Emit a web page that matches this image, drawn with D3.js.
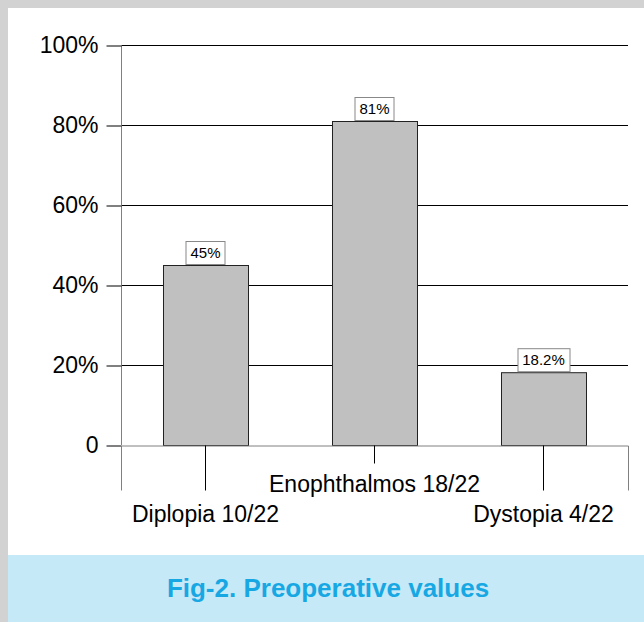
<!DOCTYPE html>
<html>
<head>
<meta charset="utf-8">
<script src="https://cdn.jsdelivr.net/npm/d3@7"></script>
<style>
  body { margin: 0; background: #fff; }
  text { font-family: "Liberation Sans", Arial, sans-serif; }
</style>
</head>
<body>
<div id="chart"></div>
<script>
var categories = ["Diplopia 10/22", "Enophthalmos 18/22", "Dystopia 4/22"];
var values = [45, 81, 18.2];
var valueLabels = ["45%", "81%", "18.2%"];
var yTicks = [0, 20, 40, 60, 80, 100];
var caption = "Fig-2. Preoperative values";

var svgWidth = 644;
var svgHeight = 622;

var svg = d3.select("#chart")
  .append("svg")
  .attr("width", svgWidth)
  .attr("height", svgHeight);

// frame
svg.append("rect").attr("x", 0).attr("y", 0).attr("width", svgWidth).attr("height", 8).attr("fill", "#d2d2d2");
svg.append("rect").attr("x", 0).attr("y", 0).attr("width", 8).attr("height", svgHeight).attr("fill", "#d2d2d2");
svg.append("rect").attr("x", 8).attr("y", 555).attr("width", svgWidth - 8).attr("height", svgHeight - 555).attr("fill", "#c6e9f8");
svg.append("text")
  .attr("x", 328)
  .attr("y", 597)
  .attr("text-anchor", "middle")
  .attr("font-size", "26px")
  .attr("font-weight", "bold")
  .attr("fill", "#17a8e4")
  .text(caption);

var x = d3.scaleBand()
  .domain(categories)
  .range([121, 628])
  .paddingInner(0.497)
  .paddingOuter(0.2485);

var y = d3.scaleLinear()
  .domain([0, 100])
  .range([445, 45]);

// gridlines
svg.append("g")
  .selectAll("line")
  .data(yTicks.filter(d => d > 0))
  .enter()
  .append("line")
  .attr("x1", 121)
  .attr("x2", 628)
  .attr("y1", d => y(d) + 0.5)
  .attr("y2", d => y(d) + 0.5)
  .attr("stroke", "#000");

// y axis
var leftAxis = d3.axisLeft(y)
  .tickValues(yTicks)
  .tickSize(15)
  .tickPadding(8)
  .tickFormat(d => d === 0 ? "0" : d + "%");

var yAxis = svg.append("g")
  .attr("transform", "translate(121.5, 0.5)")
  .call(leftAxis);
yAxis.select(".domain").attr("stroke", "#808080").attr("d", `M0,${y(100) - 0.5}V${y(0) - 0.5}`);
yAxis.selectAll(".tick line").attr("stroke", "#000");
yAxis.selectAll(".tick text")
  .attr("font-size", "23px")
  .attr("font-family", "'Liberation Sans', Arial, sans-serif")
  .attr("fill", "#000");

// bars
svg.append("g")
  .selectAll("rect")
  .data(values)
  .enter()
  .append("rect")
  .attr("x", (d, i) => x(categories[i]) + 0.5)
  .attr("y", d => y(d) + 0.5)
  .attr("width", x.bandwidth())
  .attr("height", d => y(0) - y(d))
  .attr("fill", "#c0c0c0")
  .attr("stroke", "#222");

// x axis
var bottomAxis = d3.axisBottom(x).tickSizeOuter(0).tickSize(45).tickPadding(0);
var xAxis = svg.append("g")
  .attr("transform", "translate(0, 445.5)")
  .call(bottomAxis);
xAxis.select(".domain").attr("stroke", "#808080");
xAxis.selectAll(".tick line")
  .attr("stroke", "#000")
  .attr("y2", (d, i) => i === 1 ? 18 : 45);
xAxis.selectAll(".tick text")
  .attr("font-size", "23px")
  .attr("font-family", "'Liberation Sans', Arial, sans-serif")
  .attr("fill", "#000")
  .attr("dy", null)
  .attr("y", (d, i) => i === 1 ? 46 : 76);

// value labels
var lab = svg.append("g")
  .selectAll("g")
  .data(values)
  .enter()
  .append("g")
  .attr("transform", (d, i) => `translate(${x(categories[i]) + x.bandwidth() / 2}, ${y(d) - 1})`);

lab.append("text")
  .attr("text-anchor", "middle")
  .attr("y", -6)
  .attr("font-size", "15px")
  .attr("fill", "#000")
  .text((d, i) => valueLabels[i]);

lab.each(function() {
  var g = d3.select(this);
  var w = g.select("text").node().getComputedTextLength() + 9;
  g.insert("rect", "text")
    .attr("x", -Math.round(w / 2) + 0.5)
    .attr("y", -23 + 0.5)
    .attr("width", Math.round(w))
    .attr("height", 23)
    .attr("fill", "#fff")
    .attr("stroke", "#888");
});
</script>
</body>
</html>
